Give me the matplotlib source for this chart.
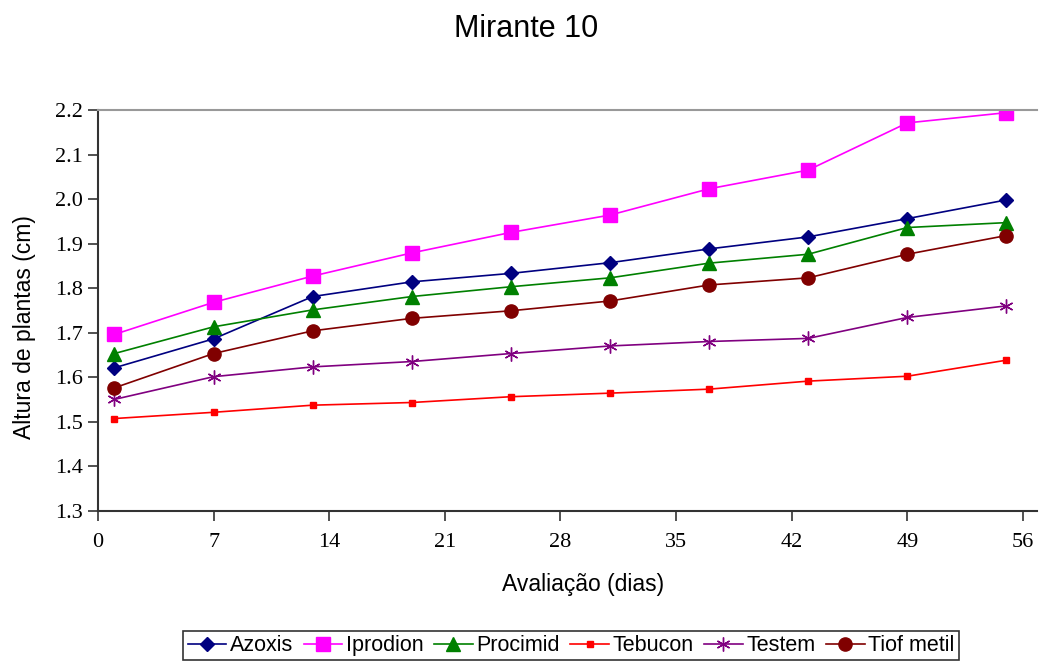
import matplotlib
matplotlib.use("Agg")
from matplotlib import pyplot as plt

# avaliações (dias)
dias = [1, 7, 13, 19, 25, 31, 37, 43, 49, 55]

azoxis = [1.621, 1.686, 1.781, 1.814, 1.833, 1.857, 1.888, 1.915, 1.956, 1.998]
iprodion = [1.696, 1.768, 1.827, 1.879, 1.925, 1.964, 2.023, 2.065, 2.171, 2.194]
procimid = [1.653, 1.713, 1.751, 1.781, 1.803, 1.823, 1.856, 1.876, 1.936, 1.947]
tebucon = [1.507, 1.521, 1.537, 1.543, 1.556, 1.564, 1.573, 1.591, 1.602, 1.638]
testem = [1.550, 1.601, 1.623, 1.635, 1.653, 1.670, 1.680, 1.687, 1.734, 1.760]
tiof = [1.576, 1.653, 1.704, 1.732, 1.749, 1.771, 1.807, 1.823, 1.876, 1.918]

xticks = [0, 7, 14, 21, 28, 35, 42, 49, 56]
yticks = [1.3, 1.4, 1.5, 1.6, 1.7, 1.8, 1.9, 2.0, 2.1, 2.2]

sans = "Liberation Sans"
serif = "Liberation Serif"

fig = plt.figure(figsize=(10.39, 6.61), dpi=100)
ax = fig.add_axes([0.0943, 0.2274, 0.9037, 0.6062])

ax.plot(dias, azoxis, color="#000080", marker="D", ms=7, lw=1.2, label="Azoxis")
ax.plot(dias, iprodion, color="#FF00FF", marker="s", ms=9.5, lw=1.2, label="Iprodion")
ax.plot(dias, procimid, color="#008000", marker="^", ms=9.5, lw=1.2, label="Procimid")
ax.plot(dias, tebucon, color="#FF0000", marker="s", ms=5, lw=1.2, label="Tebucon")
ax.plot(dias, testem, color="#800080", marker=(6, 2, 0), ms=10, mew=1.0, lw=1.2, label="Testem")
ax.plot(dias, tiof, color="#800000", marker="o", ms=9.5, lw=1.2, label="Tiof metil")

ax.set_xlim(0, 56.85)
ax.set_ylim(1.3, 2.2)
ax.set_xticks(xticks)
ax.set_yticks(yticks)
ax.set_yticklabels(["%.1f" % v for v in yticks])
for lab in ax.get_xticklabels() + ax.get_yticklabels():
    lab.set_fontfamily(serif)
    lab.set_fontsize(16)
ax.tick_params(direction="out", length=7, width=1.2, color="#333333")
ax.tick_params(axis="y", pad=4)
ax.tick_params(axis="x", pad=9)

ax.spines["right"].set_visible(False)
ax.spines["top"].set_color("#999999")
ax.spines["top"].set_linewidth(1.5)
ax.spines["left"].set_color("#333333")
ax.spines["bottom"].set_color("#333333")
ax.spines["left"].set_linewidth(1.5)
ax.spines["bottom"].set_linewidth(1.5)

ax.set_xlabel("Avaliação (dias)", fontfamily=sans, fontsize=16.5)
ax.set_ylabel("Altura de plantas (cm)", fontfamily=sans, fontsize=16.5)
ax.xaxis.set_label_coords(0.5165, -0.155)
ax.yaxis.set_label_coords(-0.066, 0.458)
fig.text(0.506, 0.956, "Mirante 10", ha="center", va="center", fontfamily=sans, fontsize=22)

leg = fig.legend(loc="upper center", bbox_to_anchor=(0.5495, 0.062), ncol=6,
                 prop={"family": sans, "size": 15.5}, frameon=True, fancybox=False,
                 edgecolor="black", handlelength=1.8, handletextpad=0.15,
                 columnspacing=0.5, borderpad=0.2)
leg.get_frame().set_linewidth(1.2)

plt.savefig("out.png", dpi=100)
